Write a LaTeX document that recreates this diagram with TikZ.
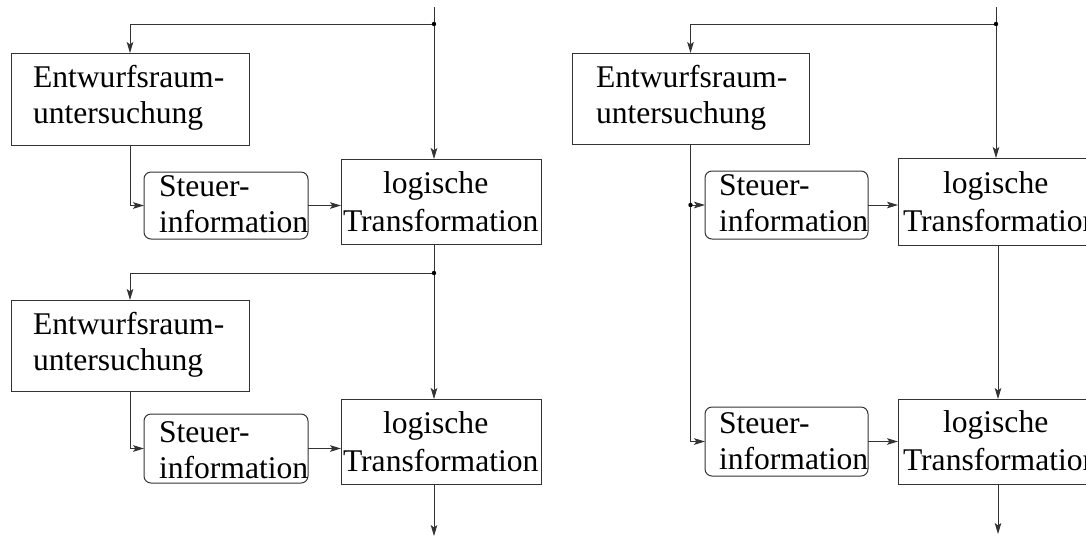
\documentclass[tikz,border=0pt]{standalone}
\usepackage{fontspec}
\setmainfont{Liberation Serif}
\usetikzlibrary{arrows.meta,fit}
% two left-aligned lines, baseline at the first line
\newcommand\twoline[2]{\begin{tabular}[t]{@{}l@{}}#1\\#2\end{tabular}}
\begin{document}
\begin{tikzpicture}[x=0.5pt,y=-0.5pt,
  line width=0.5pt,
  color=black!80,
  sqbox/.style={draw, inner sep=0pt, outer sep=0pt},
  rbox/.style={sqbox, rounded corners=3.5pt},
  lbl/.style={anchor=base west, inner sep=0pt, outer sep=0pt, text=black},
  entwtext/.style={lbl, font=\fontsize{15.8pt}{18.3pt}\selectfont},
  steuertext/.style={lbl, font=\fontsize{15.8pt}{18pt}\selectfont},
  logtext/.style={lbl, font=\fontsize{15.8pt}{19.3pt}\selectfont},
  flow/.style={-{Stealth[length=5.5pt,width=3.3pt,inset=1.2pt]}},
  dotr/.style={radius=1.1pt}
]
\clip (0,0) rectangle (1086,543);

% ---------- left: two stages in sequence ----------
\node[sqbox, fit={(11,53)(249,145)}]   (e1) {};
\node[rbox,  fit={(144,172)(308,239)}] (s1) {};
\node[sqbox, fit={(341,159)(541,244)}] (l1) {};
\node[sqbox, fit={(11,300)(249,391)}]  (e2) {};
\node[rbox,  fit={(144,414)(308,483)}] (s2) {};
\node[sqbox, fit={(341,399)(541,484)}] (l2) {};

\node[entwtext]   (e1t) at (33,87)   {\twoline{Entwurfsraum-}{untersuchung}};
\node[entwtext]   (e2t) at (33,334)  {\twoline{Entwurfsraum-}{untersuchung}};
\node[steuertext] (s1t) at (159,196) {\twoline{Steuer-}{information}};
\node[steuertext] (s2t) at (159,442) {\twoline{Steuer-}{information}};
\node[logtext]    (l1t) at (343,193) {\twoline{\hspace*{20pt}logische}{Transformation}};
\node[logtext]    (l2t) at (343,433) {\twoline{\hspace*{20pt}logische}{Transformation}};

\coordinate (t1) at (434,7);
\coordinate (d1) at (434,24);
\coordinate (d2) at (434,273);
\coordinate (b1) at (434,536);

\draw (t1) -- (d1);
\draw[flow] (d1) -- (d1 |- l1.north);
\draw[flow] (d1) -| (e1.north);
\draw[flow] (e1.south) |- (s1.west);
\draw[flow] (s1.east) -- (s1.east -| l1.west);
\draw (d2 |- l1.south) -- (d2);
\draw[flow] (d2) -| (e2.north);
\draw[flow] (d2) -- (d2 |- l2.north);
\draw[flow] (e2.south) |- (s2.west);
\draw[flow] (s2.east) -- (s2.east -| l2.west);
\draw[flow] (b1 |- l2.south) -- (b1);
\fill[black] (d1) circle[dotr];
\fill[black] (d2) circle[dotr];

% ---------- right: one exploration feeding both stages ----------
\node[sqbox, fit={(572,53)(809,144)}]   (re1) {};
\node[rbox,  fit={(705,171)(868,239)}]  (rs1) {};
\node[sqbox, fit={(898,158)(1100,245)}] (rl1) {};
\node[rbox,  fit={(705,407)(868,476)}]  (rs2) {};
\node[sqbox, fit={(898,399)(1100,484)}] (rl2) {};

\node[entwtext]   (re1t) at (596,87)  {\twoline{Entwurfsraum-}{untersuchung}};
\node[steuertext] (rs1t) at (719,195) {\twoline{Steuer-}{information}};
\node[steuertext] (rs2t) at (719,433) {\twoline{Steuer-}{information}};
\node[logtext]    (rl1t) at (903,193) {\twoline{\hspace*{20pt}logische}{Transformation}};
\node[logtext]    (rl2t) at (903,432) {\twoline{\hspace*{20pt}logische}{Transformation}};

\coordinate (t2)  at (996,7);
\coordinate (rd1) at (996,24);
\coordinate (rv)  at (998,0);
\coordinate (b2)  at (998,534);
\coordinate (rd2) at (re1.south |- rs1.west);

\draw (t2) -- (rd1);
\draw[flow] (rd1) -- (rd1 |- rl1.north);
\draw[flow] (rd1) -| (re1.north);
\draw (re1.south) -- (rd2);
\draw[flow] (rd2) -- (rs1.west);
\draw[flow] (rd2) |- (rs2.west);
\draw[flow] (rs1.east) -- (rs1.east -| rl1.west);
\draw[flow] (rv |- rl1.south) -- (rv |- rl2.north);
\draw[flow] (rs2.east) -- (rs2.east -| rl2.west);
\draw[flow] (rv |- rl2.south) -- (b2);
\fill[black] (rd1) circle[dotr];
\fill[black] (rd2) circle[dotr];
\end{tikzpicture}
\end{document}
